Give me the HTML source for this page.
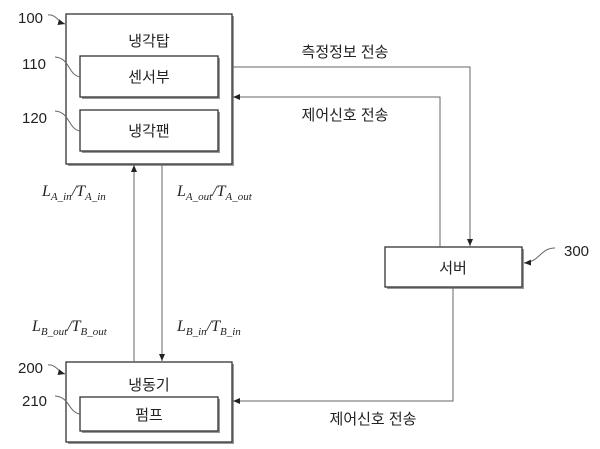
<!DOCTYPE html>
<html><head><meta charset="utf-8"><style>
body{margin:0;background:#fff;}
svg{display:block;}
text{font-family:"Liberation Sans","Noto Sans CJK KR",sans-serif;fill:#222;}
text.m{font-family:"Liberation Serif",serif;font-style:italic;}
</style></head><body>
<svg width="600" height="449" viewBox="0 0 600 449" xmlns="http://www.w3.org/2000/svg">
<defs><marker id="a" markerWidth="8" markerHeight="8" refX="7" refY="4" orient="auto" markerUnits="userSpaceOnUse"><path d="M0,1 L7,4 L0,7z" fill="#222"/></marker></defs>
<g fill="#fff" stroke="#333" stroke-width="1.3">
<rect x="68" y="16" width="166" height="150" fill="#999" stroke="none"/>
<rect x="66" y="14" width="166" height="150"/>
<rect x="82" y="58" width="138" height="41" fill="#999" stroke="none"/>
<rect x="80" y="56" width="138" height="41"/>
<rect x="82" y="112" width="138" height="41" fill="#999" stroke="none"/>
<rect x="80" y="110" width="138" height="41"/>
<rect x="68" y="364" width="166" height="80" fill="#999" stroke="none"/>
<rect x="66" y="362" width="166" height="80"/>
<rect x="82" y="399" width="138" height="34" fill="#999" stroke="none"/>
<rect x="80" y="397" width="138" height="34"/>
<rect x="387" y="249" width="137" height="40" fill="#999" stroke="none"/>
<rect x="385" y="247" width="137" height="40"/>
</g>
<g fill="none" stroke="#666" stroke-width="1">
<path d="M134 362 V165" marker-end="url(#a)"/>
<path d="M162 164 V361" marker-end="url(#a)"/>
<path d="M232 67 H470 V246" marker-end="url(#a)"/>
<path d="M440 247 V97 H233" marker-end="url(#a)"/>
<path d="M453 287 V401 H233" marker-end="url(#a)"/>
<path d="M48 15 C56 14,58 22,65 24" marker-end="url(#a)"/>
<path d="M55 57 C70 58,68 75,80 77"/>
<path d="M55 111 C70 112,68 129,80 131"/>
<path d="M48 365 C56 364,58 372,65 374" marker-end="url(#a)"/>
<path d="M55 396 C70 397,68 412,80 414"/>
<path d="M555 248 C540 248,540 262,524 263" marker-end="url(#a)"/>
</g>
<g font-size="15" text-anchor="middle">
<text x="149" y="46">냉각탑</text>
<text x="149" y="82">센서부</text>
<text x="149" y="136">냉각팬</text>
<text x="149" y="390">냉동기</text>
<text x="149" y="420">펌프</text>
<text x="453" y="273">서버</text>
<text x="345" y="57">측정정보 전송</text>
<text x="345" y="120">제어신호 전송</text>
<text x="373" y="424">제어신호 전송</text>
</g>
<g font-size="15">
<text x="18" y="23">100</text>
<text x="22" y="69">110</text>
<text x="22" y="123">120</text>
<text x="18" y="373">200</text>
<text x="22" y="406">210</text>
<text x="564" y="256">300</text>
</g>
<g font-size="16">
<text class="m" x="42" y="196">L<tspan font-size="11" dy="4">A_in</tspan><tspan dy="-4">/T</tspan><tspan font-size="11" dy="4">A_in</tspan></text>
<text class="m" x="177" y="196">L<tspan font-size="11" dy="4">A_out</tspan><tspan dy="-4">/T</tspan><tspan font-size="11" dy="4">A_out</tspan></text>
<text class="m" x="32" y="331">L<tspan font-size="11" dy="4">B_out</tspan><tspan dy="-4">/T</tspan><tspan font-size="11" dy="4">B_out</tspan></text>
<text class="m" x="177" y="331">L<tspan font-size="11" dy="4">B_in</tspan><tspan dy="-4">/T</tspan><tspan font-size="11" dy="4">B_in</tspan></text>
</g>
</svg>
</body></html>
